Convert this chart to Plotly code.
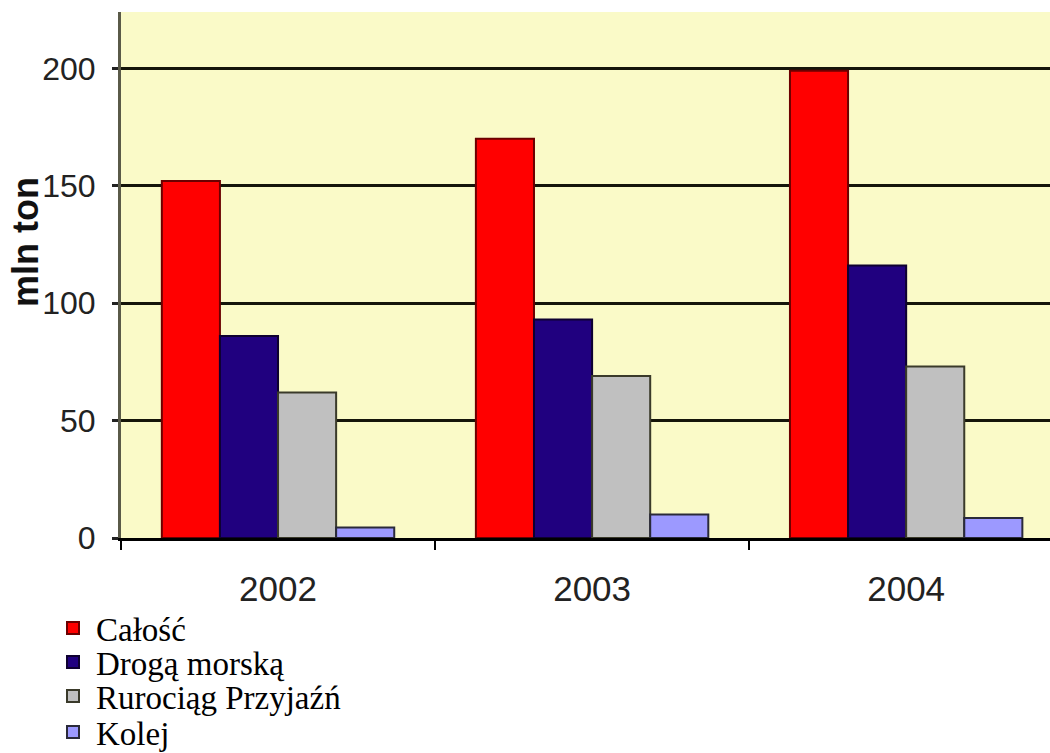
import plotly.graph_objects as go

years = ["2002", "2003", "2004"]
series_names = ["Całość", "Drogą morską", "Rurociąg Przyjaźń", "Kolej"]
calosc = [152, 170, 199]
droga_morska = [86, 93, 116]
rurociag = [62, 69, 73]
kolej = [4.5, 10, 8.5]

values = [calosc, droga_morska, rurociag, kolej]
colors = ["#FF0000", "#20007F", "#C0C0C0", "#9C99FF"]
edges = ["#6B0000", "#0E0030", "#3A3A2A", "#2A2A3A"]
legend_ids = ["legend", "legend2", "legend3", "legend4"]
legend_centers_px = [628, 662, 696, 732]

PLOT_TOP, PLOT_BOTTOM, PLOT_LEFT, PLOT_RIGHT = 12, 538, 121, 1050
plot_h = PLOT_BOTTOM - PLOT_TOP
plot_w = PLOT_RIGHT - PLOT_LEFT

fig = go.Figure()
for name, vals, col, edge, lid in zip(series_names, values, colors, edges, legend_ids):
    fig.add_trace(go.Bar(
        x=years, y=vals, name=name, legend=lid,
        marker=dict(color=col, line=dict(color=edge, width=2)),
    ))

legend_font = dict(family="Liberation Serif, Times New Roman, serif", size=33, color="black")
legend_x = (50 - PLOT_LEFT) / plot_w
legends = {}
for lid, cy in zip(legend_ids, legend_centers_px):
    legends[lid] = dict(
        x=legend_x, y=(PLOT_BOTTOM - cy) / plot_h, xanchor="left", yanchor="middle",
        font=legend_font, bgcolor="rgba(0,0,0,0)", itemwidth=36,
    )

fig.update_layout(
    template="none",
    width=1050, height=753,
    margin=dict(l=PLOT_LEFT, r=1050 - PLOT_RIGHT, t=PLOT_TOP, b=753 - PLOT_BOTTOM, autoexpand=False),
    paper_bgcolor="white",
    plot_bgcolor="#FAFAC8",
    barmode="group",
    bargap=0.26,
    bargroupgap=0,
    showlegend=True,
    xaxis=dict(
        type="category",
        range=[-0.5, 2.458],
        showgrid=False,
        showline=True, linecolor="black", linewidth=3,
        ticks="outside", tickson="boundaries", ticklen=9, tickwidth=2, tickcolor="black",
        tickfont=dict(family="Liberation Sans, Arial", size=35, color="#222222"),
        ticklabelstandoff=18,
        automargin=False,
        zeroline=False,
    ),
    yaxis=dict(
        range=[0, 224],
        tickvals=[0, 50, 100, 150, 200],
        showgrid=True, gridcolor="#15150A", gridwidth=3,
        showline=True, linecolor="#5A5A48", linewidth=3,
        ticks="outside", ticklen=6, tickwidth=3, tickcolor="#222222",
        tickfont=dict(family="Liberation Sans, Arial", size=32, color="#222222"),
        ticklabelstandoff=10,
        automargin=False,
        zeroline=False,
    ),
    annotations=[dict(
        text="<b>mln ton</b>", textangle=-90, showarrow=False,
        xref="paper", yref="paper",
        x=(26 - PLOT_LEFT) / plot_w, y=(PLOT_BOTTOM - 242) / plot_h,
        xanchor="center", yanchor="middle",
        font=dict(family="Liberation Sans, Arial", size=36, color="#111111"),
    )],
    **legends,
)

fig.write_html("out.html")
